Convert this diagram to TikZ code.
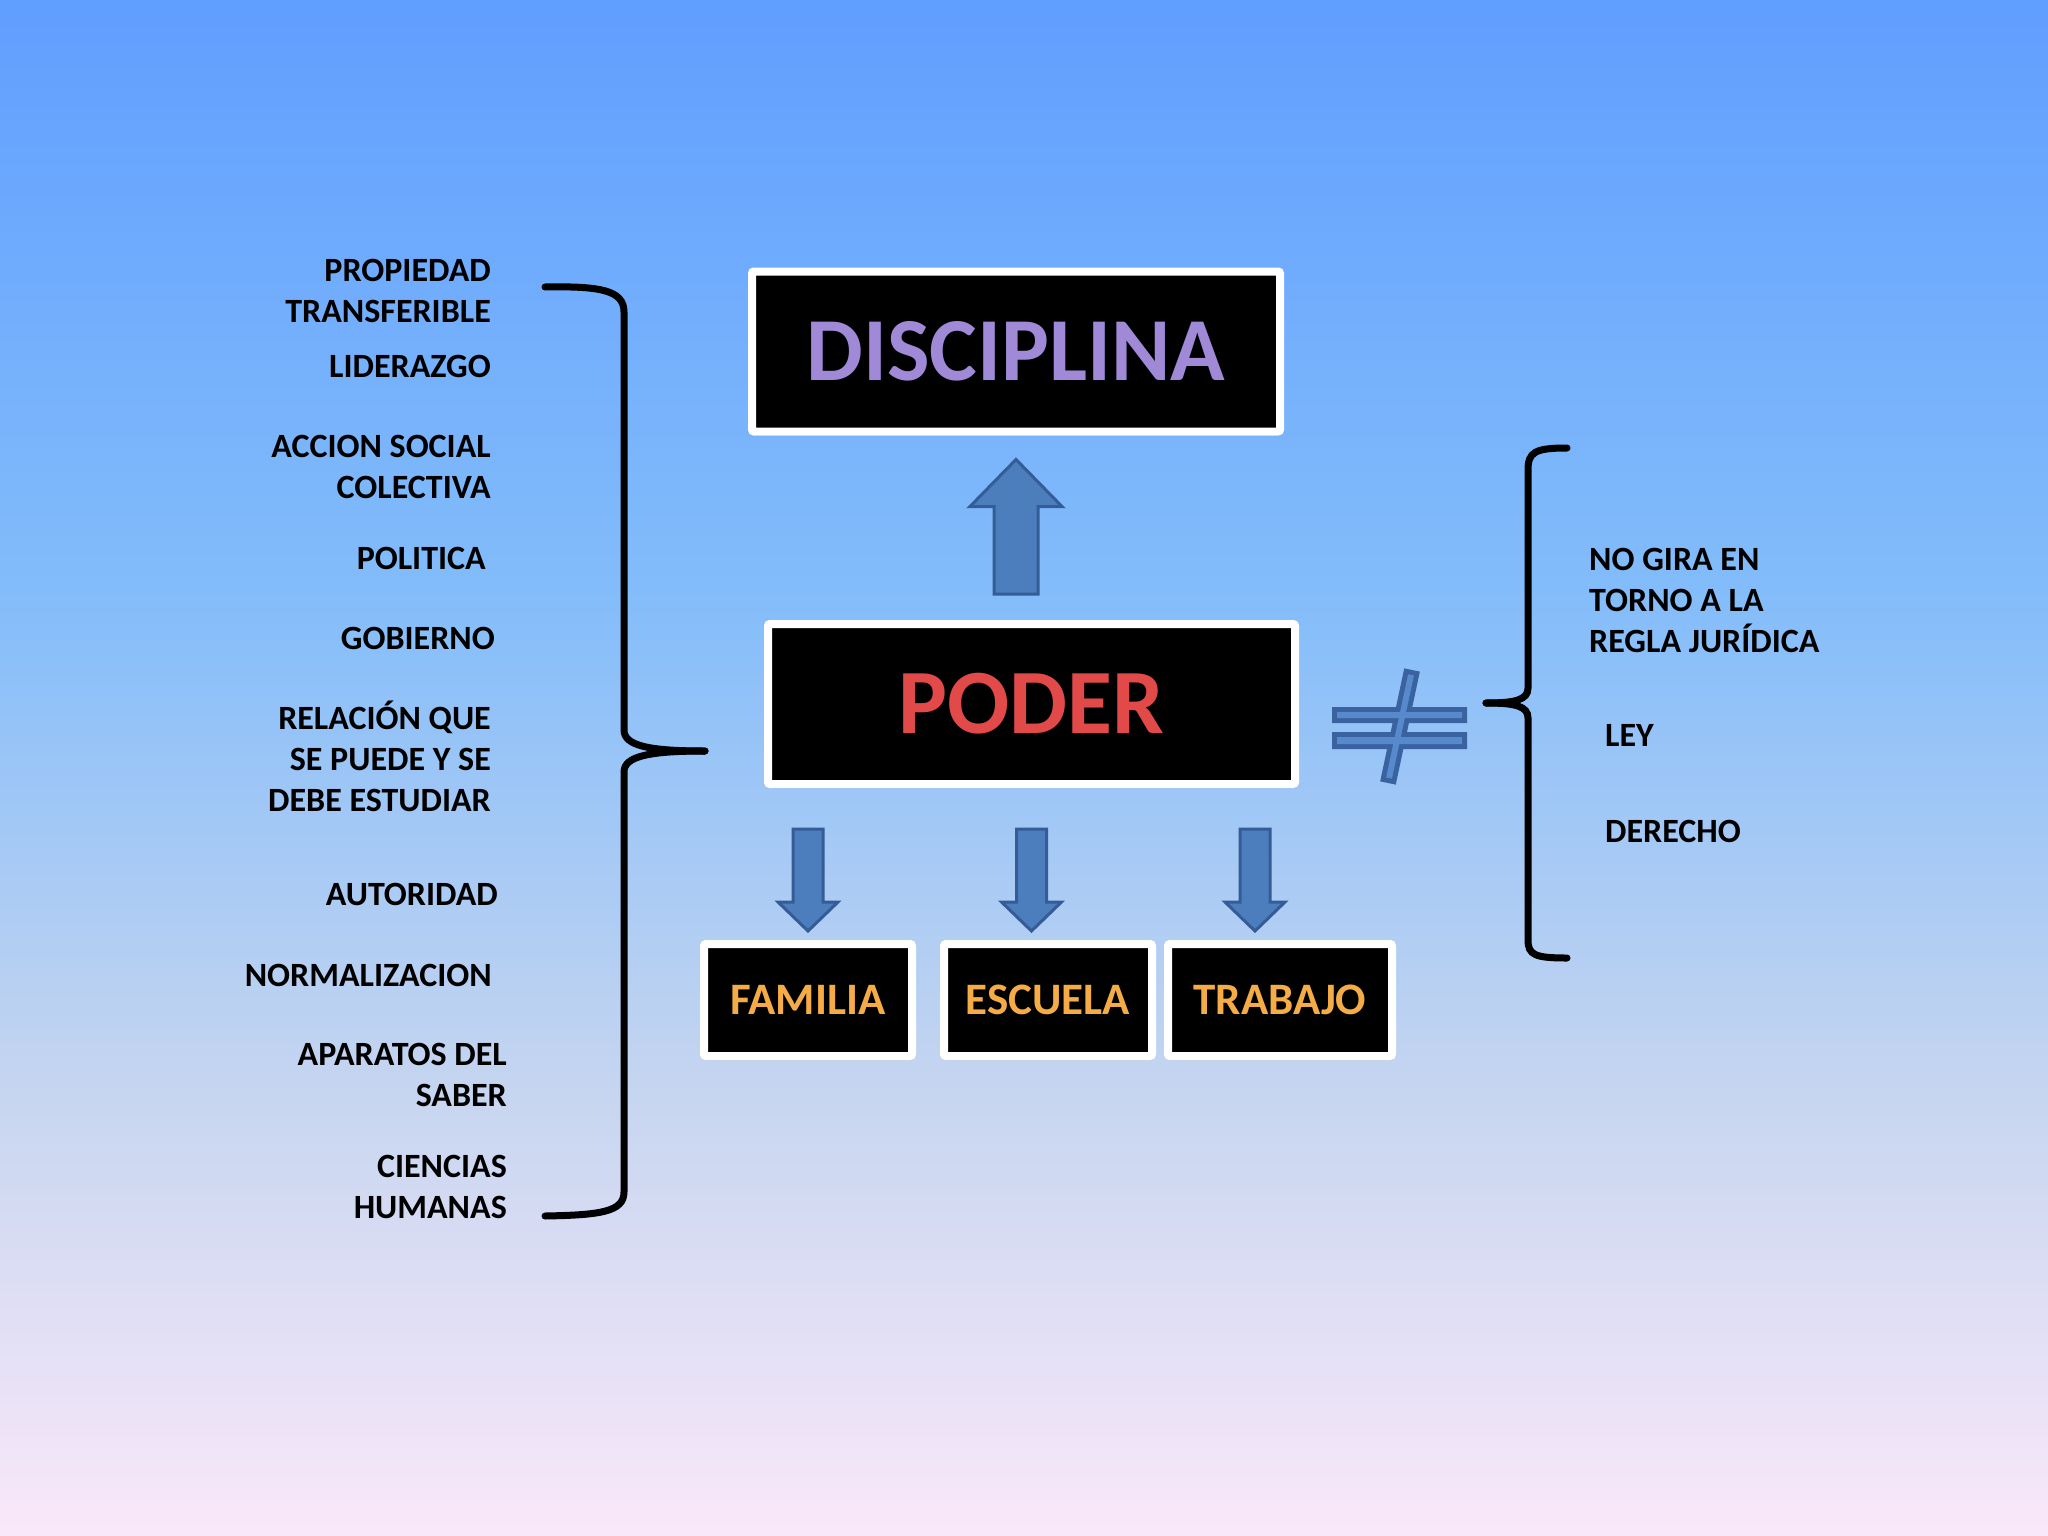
\documentclass[tikz,border=0pt]{standalone}
\usepackage{fontspec}
\setmainfont{Carlito}
\usetikzlibrary{calc,shadows}
\definecolor{bgtop}{RGB}{96,158,255}
\definecolor{bgmid}{RGB}{130,188,250}
\definecolor{bglow}{RGB}{200,214,240}
\definecolor{bgbot}{RGB}{250,232,250}
\definecolor{discol}{RGB}{160,138,216}
\definecolor{podcol}{RGB}{226,74,74}
\definecolor{smallcol}{RGB}{245,172,70}
\definecolor{arrowfill}{RGB}{76,126,190}
\definecolor{arrowline}{RGB}{52,92,150}
\definecolor{neqfill}{RGB}{86,138,204}
\definecolor{neqline}{RGB}{58,98,158}
\pgfdeclareverticalshading{bgshade}{100bp}{color(0bp)=(bgbot); color(25bp)=(bgbot); color(39bp)=(bglow); color(56bp)=(bgmid); color(75bp)=(bgtop); color(100bp)=(bgtop)}
\begin{document}
\begin{tikzpicture}[x=1pt,y=-1pt,
  bigbox/.style={draw=white, line width=8pt, fill=black, rounded corners=2pt, inner sep=0pt,
    drop shadow={shadow xshift=1pt, shadow yshift=-4pt, opacity=0.35, fill=black!70}},
  lbl/.style={font=\fontsize{34}{40.8}\selectfont\bfseries, inner sep=0pt, text=black},
  leftlbl/.style={lbl, align=right, anchor=south east},
  rightlbl/.style={lbl, align=left, anchor=north west},
  barrow/.style={fill=arrowfill, draw=arrowline, line width=3pt, line join=miter},
  bracestyle/.style={draw=black, line width=7pt, line cap=round}]
\useasboundingbox (0,0) rectangle (2048,1536);
\shade[shading=bgshade] (0,0) rectangle (2048,1536);

% main boxes
\node[bigbox, minimum width=528pt, minimum height=160pt,
  font=\fontsize{90}{90}\selectfont\bfseries, text=discol] (disc) at (1016,351.5) {DISCIPLINA};
\node[bigbox, minimum width=527pt, minimum height=160pt,
  font=\fontsize{92}{92}\selectfont\bfseries, text=podcol] (poder) at (1031.5,704) {PODER};
\node[bigbox, minimum width=208pt, minimum height=112pt,
  font=\fontsize{45}{45}\selectfont\bfseries, text=smallcol] (familia) at (808,1000) {FAMILIA};
\node[bigbox, minimum width=208pt, minimum height=112pt,
  font=\fontsize{45}{45}\selectfont\bfseries, text=smallcol] (escuela) at (1048,1000) {ESCUELA};
\node[bigbox, minimum width=224pt, minimum height=112pt,
  font=\fontsize{45}{45}\selectfont\bfseries, text=smallcol] (trabajo) at (1280,1000) {TRABAJO};

% block arrow up: PODER -> DISCIPLINA
\draw[barrow] let \p1=($(poder.north)+(0,-26)$), \p2=($(disc.south)+(0,24)$) in
  (\x2-22pt,\y1) -- (\x2-22pt,\y2-47pt) -- (\x2-46pt,\y2-47pt) -- (\x2,\y2)
  -- (\x2+46pt,\y2-47pt) -- (\x2+22pt,\y2-47pt) -- (\x2+22pt,\y1) -- cycle;

% block arrows down: PODER -> boxes
\foreach \dx/\tgt in {-223.5/familia, 0/escuela, 223.5/trabajo}{
  \draw[barrow] let \p1=($(poder.south)+(\dx,41)$), \p2=(\tgt.north) in
    (\x1-15pt,\y1) -- (\x1-15pt,\y2+38pt) -- (\x1-30pt,\y2+38pt) -- (\x1,\y2+9pt)
    -- (\x1+30pt,\y2+38pt) -- (\x1+15pt,\y2+38pt) -- (\x1+15pt,\y1) -- cycle;
}

% not-equal sign
\path[draw=neqline, fill=neqline, line width=10pt, line join=miter]
  (1337,712) rectangle (1462,718)
  (1337,737) rectangle (1462,744)
  (1413.9,675.5) -- (1408.1,674.3) -- (1386.1,777.5) -- (1391.9,778.7) -- cycle;
\fill[neqfill]
  (1337,712) rectangle (1462,718)
  (1337,737) rectangle (1462,744)
  (1413.9,675.5) -- (1408.1,674.3) -- (1386.1,777.5) -- (1391.9,778.7) -- cycle;

% left brace
\draw[bracestyle] (545,287) .. controls (600,286) and (624,290) .. (624,312) -- (624,730)
  .. controls (624,746) and (650,751) .. (705,751);
\draw[bracestyle] (705,751) .. controls (650,751) and (624,756) .. (624,772) -- (624,1192)
  .. controls (624,1212) and (600,1215) .. (545,1216);

% right brace
\draw[bracestyle] (1567,448) .. controls (1535,448) and (1528,452) .. (1528,470) -- (1528,688)
  .. controls (1528,700) and (1515,703) .. (1486,703);
\draw[bracestyle] (1486,703) .. controls (1515,703) and (1528,706) .. (1528,718) -- (1528,940)
  .. controls (1528,955) and (1535,958) .. (1567,958);

% left labels
\node[leftlbl] (l1) at (491,323) {PROPIEDAD\\TRANSFERIBLE};
\node[leftlbl] (l2) at (491,378) {LIDERAZGO};
\node[leftlbl] (l3) at (491,499) {ACCION SOCIAL\\COLECTIVA};
\node[leftlbl] (l4) at (486,570) {POLITICA};
\node[leftlbl] (l5) at (495,650) {GOBIERNO};
\node[leftlbl] (l6) at (491,812) {RELACIÓN QUE\\SE PUEDE Y SE\\DEBE ESTUDIAR};
\node[leftlbl] (l7) at (498,906) {AUTORIDAD};
\node[leftlbl] (l8) at (492,987) {NORMALIZACION};
\node[leftlbl] (l9) at (507,1107) {APARATOS DEL\\SABER};
\node[leftlbl] (l10) at (507,1219) {CIENCIAS\\HUMANAS};

% right labels
\node[rightlbl] (r1) at (1589,548) {NO GIRA EN\\TORNO A LA\\REGLA JURÍDICA};
\node[rightlbl] (r2) at (1605,724) {LEY};
\node[rightlbl] (r3) at (1605,820) {DERECHO};
\end{tikzpicture}
\end{document}
